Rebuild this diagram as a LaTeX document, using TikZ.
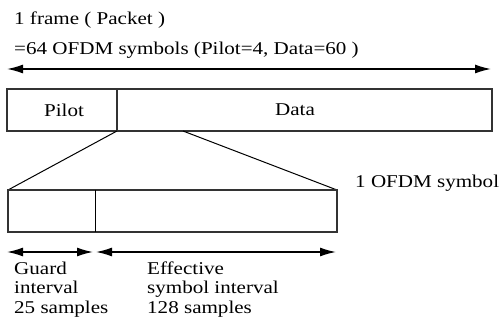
\documentclass[tikz,border=0pt]{standalone}
\usepackage{fontspec}
\setmainfont{Liberation Serif}[FakeStretch=1.17]
\usetikzlibrary{arrows.meta}
\begin{document}
\begin{tikzpicture}[x=1pt,y=-1pt,
  lbl/.style={anchor=base west,inner sep=0pt,font=\fontsize{18}{20}\selectfont},
  ctr/.style={inner sep=0pt,font=\fontsize{18}{20}\selectfont},
  box/.style={draw=black!80,line width=1.1pt},
  arr/.style={line width=1.5pt,{Latex[length=16pt,width=9pt]}-{Latex[length=16pt,width=9pt]}},
  thin/.style={line width=1pt}]
\useasboundingbox (0,0) rectangle (500,328);
\node[lbl] (t1) at (14,25) {1 frame ( Packet )};
\node[lbl] (t2) at (14,55) {=64 OFDM symbols (Pilot=4, Data=60 )};
\coordinate (fa) at (7,69);
\coordinate (fb) at (491,69);
\draw[arr] (fa) -- (fb);
% frame
\coordinate (F1) at (7,89);
\coordinate (F2) at (492,131);
\draw[box] (F1) rectangle (F2);
\coordinate (pd1) at (117,89);
\coordinate (pd2) at (117,131);
\draw[box] (pd1) -- (pd2);
\node[ctr] (pilot) at (64,110) {Pilot};
\node[ctr] (data) at (295,110) {Data};
% zoom lines
\coordinate (z1) at (183,131);
\coordinate (S1) at (8,190);
\coordinate (S2) at (337,232);
\coordinate (s1r) at (337,190);
\draw[thin] (pd2) -- (S1);
\draw[thin] (z1) -- (s1r);
\draw[box] (S1) rectangle (S2);
\coordinate (g1) at (95,190);
\coordinate (g2) at (95,232);
\draw[thin] (g1) -- (g2);
\node[lbl] (sym) at (355,188) {1 OFDM symbol};
% lower arrows
\coordinate (a1) at (7,252);
\coordinate (a2) at (93,252);
\coordinate (a3) at (96,252);
\coordinate (a4) at (336,252);
\draw[arr] (a1) -- (a2);
\draw[arr] (a3) -- (a4);
\node[lbl] (gd1) at (14,275) {Guard};
\node[lbl] (gd2) at (14,294) {interval};
\node[lbl] (gd3) at (14,313) {25 samples};
\node[lbl] (ef1) at (147,275) {Effective};
\node[lbl] (ef2) at (147,294) {symbol interval};
\node[lbl] (ef3) at (147,313) {128 samples};
\end{tikzpicture}
\end{document}
